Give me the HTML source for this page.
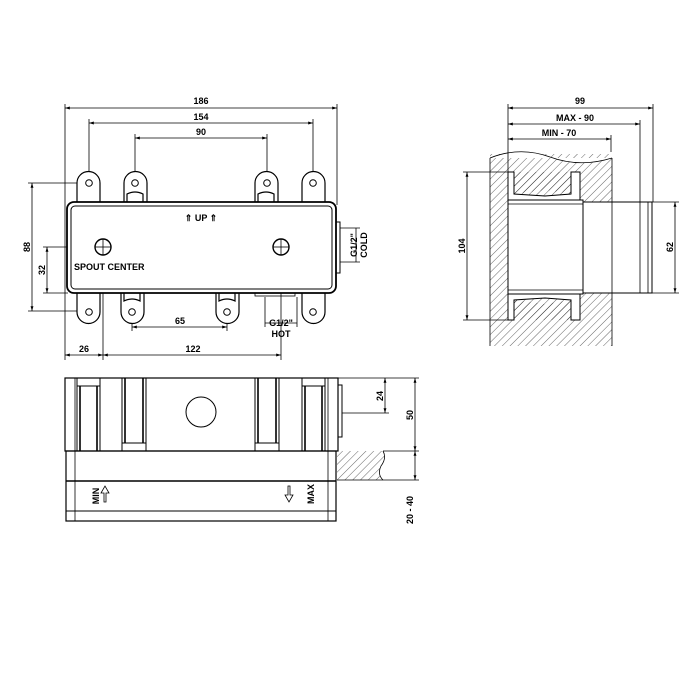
<!DOCTYPE html>
<html><head><meta charset="utf-8"><style>
html,body{margin:0;padding:0;background:#fff;}
svg{display:block}
text{font-family:"Liberation Sans",Arial,sans-serif;font-weight:bold;font-size:9px;fill:#000}
</style></head><body>
<svg width="700" height="700" viewBox="0 0 700 700" xmlns="http://www.w3.org/2000/svg">
<defs>
<pattern id="h" patternUnits="userSpaceOnUse" width="5.5" height="5.5" patternTransform="rotate(45)">
<line x1="0" y1="0" x2="0" y2="5.5" stroke="#000" stroke-width="0.6"/>
</pattern>
<marker id="a" viewBox="0 0 10 10" refX="10" refY="5" markerWidth="6" markerHeight="6" orient="auto-start-reverse"><path d="M0,2 L10,5 L0,8 z" fill="#000"/></marker>
</defs>
<g stroke="#000" fill="none" stroke-width="0.8">
<line x1="65" y1="108" x2="337" y2="108" marker-start="url(#a)" marker-end="url(#a)"/>
<line x1="89" y1="123" x2="313" y2="123" marker-start="url(#a)" marker-end="url(#a)"/>
<line x1="135" y1="138" x2="267" y2="138" marker-start="url(#a)" marker-end="url(#a)"/>
<line x1="65" y1="104" x2="65" y2="360"/><line x1="337" y1="104" x2="337" y2="205"/>
<line x1="89" y1="119" x2="89" y2="183"/><line x1="313" y1="119" x2="313" y2="183"/>
<line x1="135" y1="134" x2="135" y2="183"/><line x1="267" y1="134" x2="267" y2="183"/>
<line x1="32" y1="183" x2="32" y2="311" marker-start="url(#a)" marker-end="url(#a)"/>
<line x1="28" y1="183" x2="89" y2="183"/><line x1="28" y1="311" x2="89" y2="311"/>
<line x1="47" y1="247" x2="47" y2="293" marker-start="url(#a)" marker-end="url(#a)"/>
<line x1="43" y1="247" x2="103" y2="247"/><line x1="43" y1="293" x2="68" y2="293"/>
<line x1="132" y1="327" x2="227" y2="327" marker-start="url(#a)" marker-end="url(#a)"/>
<line x1="132" y1="312" x2="132" y2="331"/><line x1="227" y1="312" x2="227" y2="331"/>
<line x1="65" y1="355" x2="103" y2="355" marker-start="url(#a)" marker-end="url(#a)"/>
<line x1="103" y1="355" x2="281" y2="355" marker-start="url(#a)" marker-end="url(#a)"/>
<line x1="103" y1="247" x2="103" y2="360"/><line x1="281" y1="247" x2="281" y2="360"/>
<line x1="265" y1="297" x2="265" y2="327"/><line x1="297" y1="297" x2="297" y2="327"/>
<line x1="265" y1="323" x2="297" y2="323"/>
<line x1="340" y1="228" x2="360" y2="228"/><line x1="340" y1="262" x2="360" y2="262"/>
<line x1="356" y1="228" x2="356" y2="262"/>
<g stroke-width="1.2" fill="#fff">
<path d="M77,202 V183 A11.5,11.5 0 0 1 100,183 V202"/>
<path d="M124,202 V183 A11.5,11.5 0 0 1 147,183 V202"/>
<path d="M255,202 V183 A11.5,11.5 0 0 1 278,183 V202"/>
<path d="M302,202 V183 A11.5,11.5 0 0 1 325,183 V202"/>
<path d="M77,293 V312 A11.5,11.5 0 0 0 100,312 V293"/>
<path d="M121,293 V312 A11.5,11.5 0 0 0 144,312 V293"/>
<path d="M216,293 V312 A11.5,11.5 0 0 0 239,312 V293"/>
<path d="M302,293 V312 A11.5,11.5 0 0 0 325,312 V293"/>
<path d="M127,202 V194 Q135,190 143,194 V202"/>
<path d="M258,202 V194 Q266,190 274,194 V202"/>
<path d="M124,293 V301 Q132,297 140,301 V293"/>
<path d="M219,293 V301 Q227,297 235,301 V293"/>
</g>
<g stroke-width="1">
<circle cx="89" cy="183" r="3.3"/><circle cx="135" cy="183" r="3.3"/><circle cx="267" cy="183" r="3.3"/><circle cx="313" cy="183" r="3.3"/>
<circle cx="89" cy="312" r="3.3"/><circle cx="132" cy="312" r="3.3"/><circle cx="227" cy="312" r="3.3"/><circle cx="313" cy="312" r="3.3"/>
</g>
<rect x="67" y="202" width="269" height="91" rx="7" fill="#fff" stroke-width="1.8"/>
<rect x="71" y="206" width="261" height="83" rx="4" stroke-width="1"/>
<rect x="336" y="222" width="4" height="51" stroke-width="1"/>
<rect x="255" y="293" width="40" height="3" stroke-width="0.8"/>
<circle cx="103" cy="247" r="8" stroke-width="1.4"/><line x1="95" y1="247" x2="111" y2="247"/><line x1="103" y1="239" x2="103" y2="255"/>
<circle cx="281" cy="247" r="8" stroke-width="1.4"/><line x1="273" y1="247" x2="289" y2="247"/><line x1="281" y1="239" x2="281" y2="255"/>

<rect x="490" y="152" width="122" height="194" fill="url(#h)" stroke="none"/>
<path d="M490,158 Q520,146 550,157 T612,158 V154 H478 V140 H618 V158" fill="#fff" stroke="none"/>
<path d="M490,158 Q520,146 550,157 T612,158" stroke-width="0.8"/>
<line x1="490" y1="158" x2="490" y2="346" stroke-width="0.8"/>
<line x1="612" y1="158" x2="612" y2="346" stroke-width="0.8"/>
<path d="M508,200 V172 H514 V194 L545,196 L571,194 V172 H580 V200 Z" fill="#fff" stroke-width="1"/>
<path d="M514,194 V172 H571 V194 L545,190 Z" fill="url(#h)" stroke="none"/>
<path d="M508,294 V320 H514 V300 L545,298 L571,300 V320 H580 V294 Z" fill="#fff" stroke-width="1"/>
<path d="M514,300 V320 H571 V300 L545,304 Z" fill="url(#h)" stroke="none"/>
<rect x="508" y="200" width="75" height="94" fill="#fff" stroke-width="1"/>
<line x1="508" y1="204" x2="583" y2="204"/><line x1="508" y1="290" x2="583" y2="290"/>
<rect x="583" y="202" width="69" height="91" fill="#fff" stroke-width="1"/>
<line x1="612" y1="202" x2="612" y2="293"/><line x1="640" y1="202" x2="640" y2="293"/><line x1="648" y1="202" x2="648" y2="293"/>
<line x1="508" y1="108" x2="653" y2="108" marker-start="url(#a)" marker-end="url(#a)"/>
<line x1="508" y1="124" x2="640" y2="124" marker-start="url(#a)" marker-end="url(#a)"/>
<line x1="508" y1="139" x2="611" y2="139" marker-start="url(#a)" marker-end="url(#a)"/>
<line x1="508" y1="104" x2="508" y2="172"/><line x1="653" y1="104" x2="653" y2="202"/>
<line x1="640" y1="120" x2="640" y2="202"/><line x1="611" y1="135" x2="611" y2="152"/>
<line x1="467" y1="172" x2="467" y2="320" marker-start="url(#a)" marker-end="url(#a)"/>
<line x1="463" y1="172" x2="508" y2="172"/><line x1="463" y1="320" x2="508" y2="320"/>
<line x1="675" y1="202" x2="675" y2="293" marker-start="url(#a)" marker-end="url(#a)"/>
<line x1="652" y1="202" x2="679" y2="202"/><line x1="652" y1="293" x2="679" y2="293"/>

<rect x="65" y="378" width="273" height="73" stroke-width="1.2"/>
<rect x="66" y="451" width="270" height="70" stroke-width="1.2"/>
<line x1="66" y1="481" x2="336" y2="481" stroke-width="1.4"/>
<line x1="66" y1="511" x2="336" y2="511" stroke-width="1"/>
<line x1="75" y1="451" x2="75" y2="521"/><line x1="328" y1="451" x2="328" y2="521"/>
<line x1="75" y1="378" x2="75" y2="451"/><line x1="328" y1="378" x2="328" y2="451"/>
<g stroke-width="1">
<rect x="77" y="378" width="23" height="73"/><rect x="77" y="378" width="23" height="8"/>
<line x1="80" y1="386" x2="80" y2="451" stroke-width="1.6"/><line x1="97" y1="386" x2="97" y2="451" stroke-width="1.6"/>
<rect x="122" y="378" width="24" height="73"/><rect x="122" y="443" width="24" height="8"/>
<line x1="125" y1="378" x2="125" y2="443" stroke-width="1.6"/><line x1="143" y1="378" x2="143" y2="443" stroke-width="1.6"/>
<rect x="255" y="378" width="24" height="73"/><rect x="255" y="443" width="24" height="8"/>
<line x1="258" y1="378" x2="258" y2="443" stroke-width="1.6"/><line x1="276" y1="378" x2="276" y2="443" stroke-width="1.6"/>
<rect x="302" y="378" width="23" height="73"/><rect x="302" y="378" width="23" height="8"/>
<line x1="305" y1="386" x2="305" y2="451" stroke-width="1.6"/><line x1="322" y1="386" x2="322" y2="451" stroke-width="1.6"/>
</g>
<circle cx="201" cy="412" r="15" stroke-width="1"/>
<rect x="338" y="385" width="4" height="52" stroke-width="1"/>
<path d="M337,451 H383 Q387,458 381,466 Q377,474 383,480 H337 Z" fill="url(#h)" stroke="none"/>
<path d="M383,451 Q387,458 381,466 Q377,474 383,480" stroke-width="0.8"/>
<line x1="337" y1="480" x2="383" y2="480"/>
<path d="M104,502 V493 H101 L105,486 L109,493 H106 V502 Z" stroke-width="0.8"/>
<path d="M288,486 V495 H285 L289,502 L293,495 H290 V486 Z" stroke-width="0.8"/>
<line x1="385" y1="378" x2="385" y2="413" marker-start="url(#a)" marker-end="url(#a)"/>
<line x1="342" y1="413" x2="389" y2="413"/><line x1="338" y1="378" x2="419" y2="378"/>
<line x1="415" y1="378" x2="415" y2="451" marker-start="url(#a)" marker-end="url(#a)"/>
<line x1="415" y1="451" x2="415" y2="480" marker-start="url(#a)" marker-end="url(#a)"/>
<line x1="383" y1="451" x2="419" y2="451"/><line x1="383" y1="480" x2="419" y2="480"/>
</g>
<text x="201" y="104" text-anchor="middle">186</text>
<text x="201" y="120" text-anchor="middle">154</text>
<text x="201" y="135" text-anchor="middle">90</text>
<text x="201" y="221" text-anchor="middle" font-size="10">⇑ UP ⇑</text>
<text x="74" y="270" font-size="8.5">SPOUT  CENTER</text>
<text x="180" y="324" text-anchor="middle">65</text>
<text x="84" y="352" text-anchor="middle">26</text>
<text x="193" y="352" text-anchor="middle">122</text>
<text x="281" y="326" text-anchor="middle" font-size="8.5">G1/2"</text>
<text x="281" y="337" text-anchor="middle" font-size="8.5">HOT</text>
<text transform="translate(357,245) rotate(-90)" text-anchor="middle" font-size="8.5">G1/2"</text>
<text transform="translate(367,245) rotate(-90)" text-anchor="middle" font-size="8.5">COLD</text>
<text transform="translate(30,247) rotate(-90)" text-anchor="middle">88</text>
<text transform="translate(45,270) rotate(-90)" text-anchor="middle">32</text>
<text x="580" y="104" text-anchor="middle">99</text>
<text x="575" y="121" text-anchor="middle">MAX  -  90</text>
<text x="559" y="136" text-anchor="middle">MIN  -  70</text>
<text transform="translate(465,246) rotate(-90)" text-anchor="middle">104</text>
<text transform="translate(673,247) rotate(-90)" text-anchor="middle">62</text>
<text transform="translate(99,496) rotate(-90)" text-anchor="middle">MIN</text>
<text transform="translate(314,494) rotate(-90)" text-anchor="middle">MAX</text>
<text transform="translate(383,396) rotate(-90)" text-anchor="middle">24</text>
<text transform="translate(413,415) rotate(-90)" text-anchor="middle">50</text>
<text transform="translate(413,510) rotate(-90)" text-anchor="middle">20  -  40</text>
</svg>
</body></html>
